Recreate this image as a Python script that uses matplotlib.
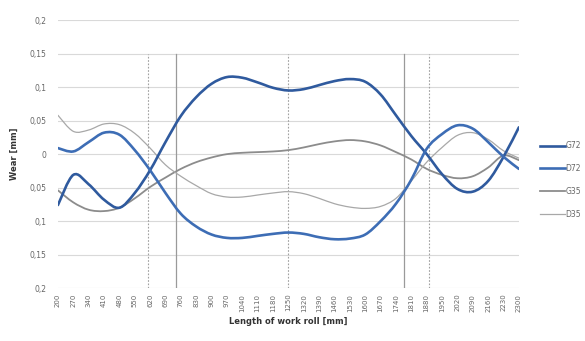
import matplotlib
matplotlib.use("Agg")
import matplotlib.pyplot as plt
from matplotlib.path import Path
from matplotlib.patches import PathPatch
from matplotlib.lines import Line2D

# roll positions (mm), one category every 70 mm
positions = list(range(200, 2301, 70))

G72 = [-0.076, -0.031, -0.045, -0.068, -0.080, -0.058, -0.024, 0.018, 0.057, 0.085,
       0.105, 0.115, 0.114, 0.107, 0.099, 0.095, 0.097, 0.103, 0.109, 0.112,
       0.108, 0.089, 0.058, 0.027, 0.000, -0.030, -0.052, -0.056, -0.040, -0.004, 0.040]
D72 = [0.009, 0.004, 0.018, 0.032, 0.029, 0.006, -0.024, -0.058, -0.089, -0.108,
       -0.120, -0.125, -0.125, -0.122, -0.119, -0.117, -0.119, -0.124, -0.127, -0.126,
       -0.120, -0.100, -0.074, -0.038, 0.008, 0.030, 0.043, 0.038, 0.018, -0.004, -0.022]
G35 = [-0.054, -0.072, -0.083, -0.085, -0.080, -0.066, -0.049, -0.035, -0.022, -0.012,
       -0.005, 0.000, 0.002, 0.003, 0.004, 0.006, 0.010, 0.015, 0.019, 0.021,
       0.019, 0.013, 0.003, -0.008, -0.022, -0.031, -0.036, -0.033, -0.020, -0.002, -0.009]
D35 = [0.058, 0.034, 0.036, 0.045, 0.044, 0.031, 0.009, -0.016, -0.033, -0.047,
       -0.059, -0.064, -0.064, -0.061, -0.058, -0.056, -0.059, -0.066, -0.074, -0.079,
       -0.081, -0.078, -0.066, -0.040, -0.012, 0.010, 0.028, 0.032, 0.022, 0.005, -0.006]

dashed_marks = [610, 1250, 1890]
solid_marks = [740, 1775]

y_ticks = [-0.2, -0.15, -0.1, -0.05, 0, 0.05, 0.1, 0.15, 0.2]
y_labels = ["0,2", "0,15", "0,1", "0,05", "0", "0,05", "0,1", "0,15", "0,2"]


def smooth_path(xs, ys):
    # excel-like "smoothed line": bezier segments through every point
    n = len(xs)
    verts = [(xs[0], ys[0])]
    codes = [Path.MOVETO]
    for i in range(n - 1):
        x0, y0 = xs[max(i - 1, 0)], ys[max(i - 1, 0)]
        x1, y1 = xs[i], ys[i]
        x2, y2 = xs[i + 1], ys[i + 1]
        x3, y3 = xs[min(i + 2, n - 1)], ys[min(i + 2, n - 1)]
        verts += [(x1 + (x2 - x0) / 6, y1 + (y2 - y0) / 6),
                  (x2 - (x3 - x1) / 6, y2 - (y3 - y1) / 6),
                  (x2, y2)]
        codes += [Path.CURVE4] * 3
    return Path(verts, codes)


fig = plt.figure(figsize=(5.85, 3.41), dpi=100)
ax = fig.add_axes([0.099, 0.155, 0.788, 0.786])

for y in y_ticks:
    ax.axhline(y, color="#d9d9d9", lw=0.8, zorder=0)

for x in dashed_marks:
    ax.plot([x, x], [-0.2, 0.15], color="#a0a0a0", lw=0.8, ls=(0, (1.5, 1.5)), zorder=1)
for x in solid_marks:
    ax.plot([x, x], [-0.2, 0.15], color="#9a9a9a", lw=0.9, zorder=1)

series = [("G72", G72, "#2f5a9e", 1.9, 3),
          ("D72", D72, "#3d6db5", 1.9, 3),
          ("G35", G35, "#8c8c8c", 1.3, 2),
          ("D35", D35, "#a8a8a8", 0.9, 2)]

handles = []
for name, vals, col, lw, z in series:
    ax.add_patch(PathPatch(smooth_path(positions, vals), facecolor="none",
                           edgecolor=col, lw=lw, zorder=z, capstyle="round"))
    handles.append(Line2D([], [], color=col, lw=lw, label=name))

ax.set_xlim(200, 2300)
ax.set_ylim(-0.2, 0.2)
ax.set_yticks(y_ticks)
ax.set_yticklabels(y_labels)
ax.set_xticks(positions)
ax.set_xticklabels([str(p) for p in positions], rotation=90)
ax.tick_params(axis="y", length=0, pad=8, labelsize=5.5, labelcolor="#666666")
ax.tick_params(axis="x", length=0, pad=4, labelsize=5, labelcolor="#666666")
for s in ax.spines.values():
    s.set_visible(False)

ax.set_xlabel("Length of work roll [mm]", fontsize=6, fontweight="bold", color="#333333", labelpad=4)
ax.set_ylabel("Wear [mm]", fontsize=6, fontweight="bold", color="#333333", labelpad=8)

leg = fig.legend(handles=handles, loc="center left", bbox_to_anchor=(0.912, 0.472),
                 frameon=False, fontsize=5.5, handlelength=3.2, handletextpad=0.1,
                 labelspacing=1.8)
for t in leg.get_texts():
    t.set_color("#666666")

fig.savefig("out.png", dpi=100)
